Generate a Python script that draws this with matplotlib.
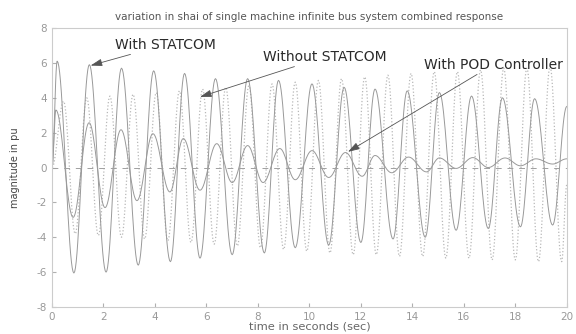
import matplotlib
matplotlib.use("Agg")
import matplotlib.pyplot as plt
import numpy as np

# extrema (time in s, value in pu)
statcom_t = [0, 0.2, 0.85, 1.45, 2.1, 2.7, 3.35, 3.95, 4.6, 5.15,
             5.75, 6.35, 7.0, 7.6, 8.25, 8.8, 9.45, 10.1, 10.75, 11.35,
             12.0, 12.55, 13.25, 13.8, 14.5, 15.05, 15.7, 16.3, 16.95, 17.5,
             18.2, 18.75, 19.45, 20.0]
statcom_v = [0, 6.1, -6.05, 5.9, -6.0, 5.7, -5.6, 5.55, -5.4, 5.4,
             -5.2, 5.1, -5.0, 5.1, -4.9, 5.0, -4.6, 4.8, -4.45, 4.6,
             -4.3, 4.5, -4.1, 4.4, -4.0, 4.3, -3.6, 4.1, -3.5, 4.0,
             -3.4, 3.95, -3.3, 3.5]

pod_t = [0, 0.15, 0.82, 1.44, 2.06, 2.68, 3.3, 3.92, 4.58, 5.1,
         5.75, 6.4, 7.0, 7.6, 8.2, 8.85, 9.45, 10.1, 10.75, 11.4,
         12.05, 12.55, 13.2, 13.85, 14.55, 15.05, 15.7, 16.35, 16.95, 17.6,
         18.2, 18.8, 19.45, 20.0]
pod_v = [0, 3.3, -2.86, 2.57, -2.3, 2.17, -1.9, 1.94, -1.4, 1.66,
         -1.3, 1.37, -0.86, 1.26, -0.86, 1.09, -0.7, 0.97, -0.57, 0.86,
         -0.5, 0.69, -0.3, 0.6, -0.25, 0.55, -0.05, 0.57, 0.0, 0.55,
         0.1, 0.5, 0.2, 0.5]

nostat_t = [0, 0.45, 0.9, 1.35, 1.8, 2.25, 2.7, 3.15, 3.6, 4.05, 4.5,
            4.95, 5.4, 5.85, 6.3, 6.75, 7.2, 7.65, 8.1, 8.55, 9.0,
            9.45, 9.9, 10.35, 10.8, 11.25, 11.7, 12.15, 12.6, 13.05, 13.5,
            13.95, 14.4, 14.85, 15.3, 15.75, 16.2, 16.65, 17.1, 17.55, 18.0,
            18.45, 18.9, 19.35, 19.8, 20.0]
nostat_v = [0, 3.8, -3.8, 4.0, -3.9, 4.1, -4.0, 4.2, -4.1, 4.3, -4.2,
            4.4, -4.3, 4.5, -4.4, 4.6, -4.5, 4.7, -4.6, 4.8, -4.7,
            4.9, -4.8, 5.0, -4.9, 5.1, -5.0, 5.2, -5.0, 5.3, -5.1,
            5.4, -5.1, 5.5, -5.2, 5.5, -5.2, 5.6, -5.3, 5.7, -5.3,
            5.7, -5.4, 5.8, -5.4, -1.0]

xticks = list(range(0, 21, 2))
yticks = list(range(-8, 9, 2))


def smooth(ts, vs, n=20):
    # half-cosine segments between consecutive extrema
    xs, ys = [], []
    for i in range(len(ts) - 1):
        s = np.linspace(0, 1, n, endpoint=False)
        xs.append(ts[i] + (ts[i + 1] - ts[i]) * s)
        ys.append(vs[i] + (vs[i + 1] - vs[i]) * (1 - np.cos(np.pi * s)) / 2)
    xs.append([ts[-1]])
    ys.append([vs[-1]])
    return np.concatenate(xs), np.concatenate(ys)


plt.rcParams['font.family'] = ['DejaVu Sans']
plt.rcParams['axes.unicode_minus'] = False

fig = plt.figure(figsize=(5.76, 3.34), dpi=100)
ax = fig.add_axes([0.0903, 0.0808, 0.8937, 0.8352])

x, y = smooth(nostat_t, nostat_v)
ax.plot(x, y, ':', color='#b8b8b8', lw=0.9)
x, y = smooth(statcom_t, statcom_v)
ax.plot(x, y, '-', color='#999999', lw=0.7)
x, y = smooth(pod_t, pod_v)
ax.plot(x, y, '-', color='#999999', lw=0.7)
ax.axhline(0, color='#a0a0a0', lw=0.7, ls=(0, (6, 6)))

ax.set_xlim(0, 20)
ax.set_ylim(-8, 8)
ax.set_xticks(xticks)
ax.set_yticks(yticks)
ax.tick_params(direction='in', length=3, colors='#b0b0b0', labelcolor='#999999', labelsize=7.5)
for s in ax.spines.values():
    s.set_color('#cccccc')
    s.set_linewidth(0.8)

ax.set_title('variation in shai of single machine infinite bus system combined response',
             fontsize=7.5, color='#555555', pad=6)
ax.set_xlabel('time in seconds (sec)', fontsize=8.2, color='#666666', labelpad=0)
ax.set_ylabel('magnitude in pu', fontsize=7, color='#444444', labelpad=12)

arrow = dict(arrowstyle='-|>,head_length=0.7,head_width=0.22', color='#555555', lw=0.6,
             shrinkA=0, shrinkB=0)
ax.annotate('With STATCOM', xy=(1.5, 5.85), xytext=(2.45, 7.05), fontsize=10,
            color='#2a2a2a', va='center', arrowprops=arrow)
ax.annotate('Without STATCOM', xy=(5.75, 4.05), xytext=(8.2, 6.35), fontsize=10,
            color='#2a2a2a', va='center', arrowprops=arrow)
ax.annotate('With POD Controller', xy=(11.5, 0.9), xytext=(14.45, 5.9), fontsize=10,
            color='#2a2a2a', va='center', arrowprops=arrow)

fig.savefig('out.png', dpi=100)
